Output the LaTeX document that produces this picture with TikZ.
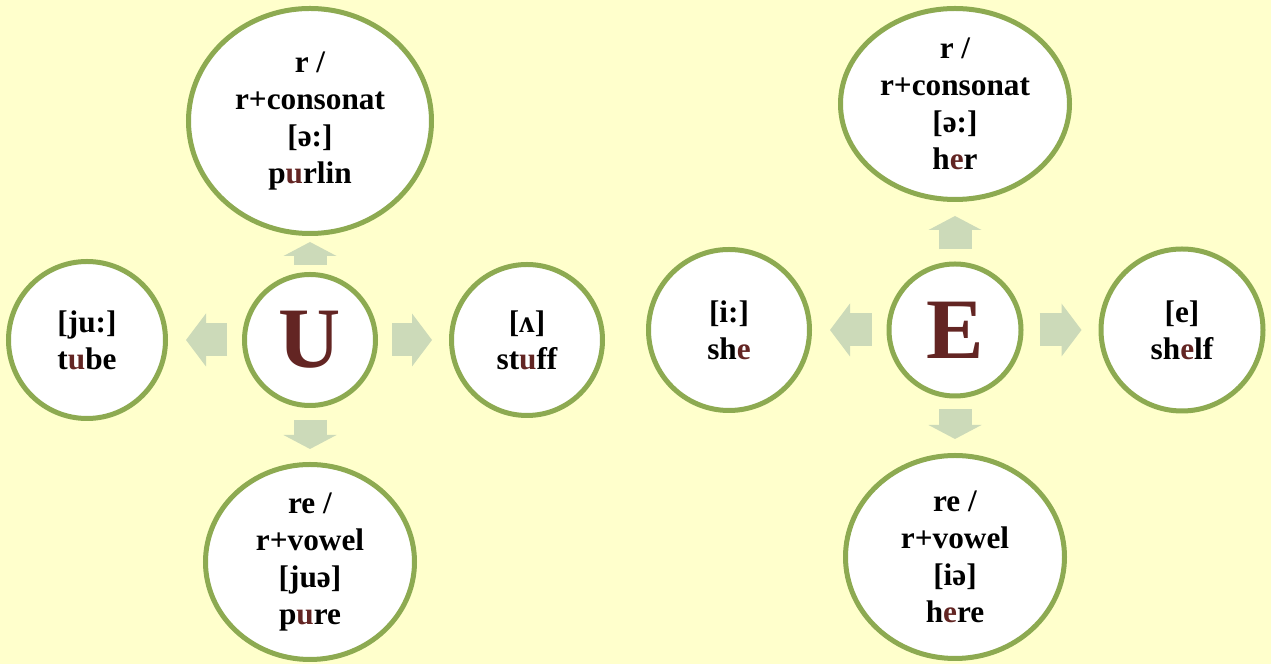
\documentclass[tikz,border=0pt]{standalone}
\usepackage{fontspec}
\setmainfont{Liberation Serif}
\usetikzlibrary{arrows.meta,shapes.geometric}
\definecolor{bgyellow}{HTML}{FFFFCC}
\definecolor{ringgreen}{HTML}{8DAA51}
\definecolor{arrowgreen}{HTML}{CCDAB9}
\definecolor{vowelred}{HTML}{632523}
\tikzset{
  sound/.style={draw=ringgreen, line width=1mm, fill=white, ellipse, inner sep=-3pt, align=center, font=\bfseries\fontsize{17.8}{21}\selectfont},
  letter/.style={sound, circle, inner sep=0pt, font=\bfseries\fontsize{49}{49}\selectfont, text=vowelred},
  varrow/.style={draw=arrowgreen, line width=6.6mm, -{Triangle[length=2.8mm, width=10.6mm, line width=0pt]}},
  harrow/.style={varrow, -{Triangle[length=4mm, width=10.6mm, line width=0pt]}}
}
\newcommand{\hl}[1]{\textcolor{vowelred}{#1}}
\begin{document}
\begin{tikzpicture}[x=0.2mm, y=-0.2mm]
  \fill[bgyellow] (0,0) rectangle (1271,664);
  \useasboundingbox (0,0) rectangle (1271,664);

  % letter U and its sounds
  \node[letter, minimum size=26.2mm] (letU) at (310,340) {U};
  \node[sound, minimum width=48.6mm, minimum height=45mm] (purlin) at (310,121) {r /\\r+consonat\\{[ə:]}\\p\hl{u}rlin};
  \node[sound, minimum width=41.8mm, minimum height=39mm] (pure) at (310,562) {re /\\r+vowel\\{[juə]}\\p\hl{u}re};
  \node[sound, minimum width=31.4mm, minimum height=31.4mm] (tube) at (87,340) {{[ju:]}\\t\hl{u}be};
  \node[sound, minimum width=30.2mm, minimum height=30.2mm] (stuff) at (527,340) {{[ʌ]}\\st\hl{u}ff};

  % letter E and its sounds
  \node[letter, minimum size=26.4mm] (letE) at (955,330) {E};
  \node[sound, minimum width=45.8mm, minimum height=38.2mm] (her) at (955,104) {r /\\r+consonat\\{[ə:]}\\h\hl{e}r};
  \node[sound, minimum width=43.8mm, minimum height=40.6mm] (here) at (955,557) {re /\\r+vowel\\{[iə]}\\h\hl{e}re};
  \node[sound, minimum width=32.2mm, minimum height=32.2mm] (she) at (729,330) {{[i:]}\\sh\hl{e}};
  \node[sound, minimum width=32.4mm, minimum height=32.4mm] (shelf) at (1182,330) {{[e]}\\sh\hl{e}lf};

  \draw[varrow, shorten <=1.4mm, shorten >=1.2mm] (letU) -- (purlin);
  \draw[varrow, shorten <=2.4mm, shorten >=2.6mm] (letU) -- (pure);
  \draw[harrow, shorten <=3mm, shorten >=3.6mm] (letU) -- (tube);
  \draw[harrow, shorten <=2.8mm, shorten >=3.4mm] (letU) -- (stuff);

  \draw[varrow, shorten <=2.4mm, shorten >=2.8mm] (letE) -- (her);
  \draw[varrow, shorten <=2.2mm, shorten >=2.8mm] (letE) -- (here);
  \draw[harrow, shorten <=3mm, shorten >=3.6mm] (letE) -- (she);
  \draw[harrow, shorten <=3.2mm, shorten >=3.4mm] (letE) -- (shelf);
\end{tikzpicture}
\end{document}
